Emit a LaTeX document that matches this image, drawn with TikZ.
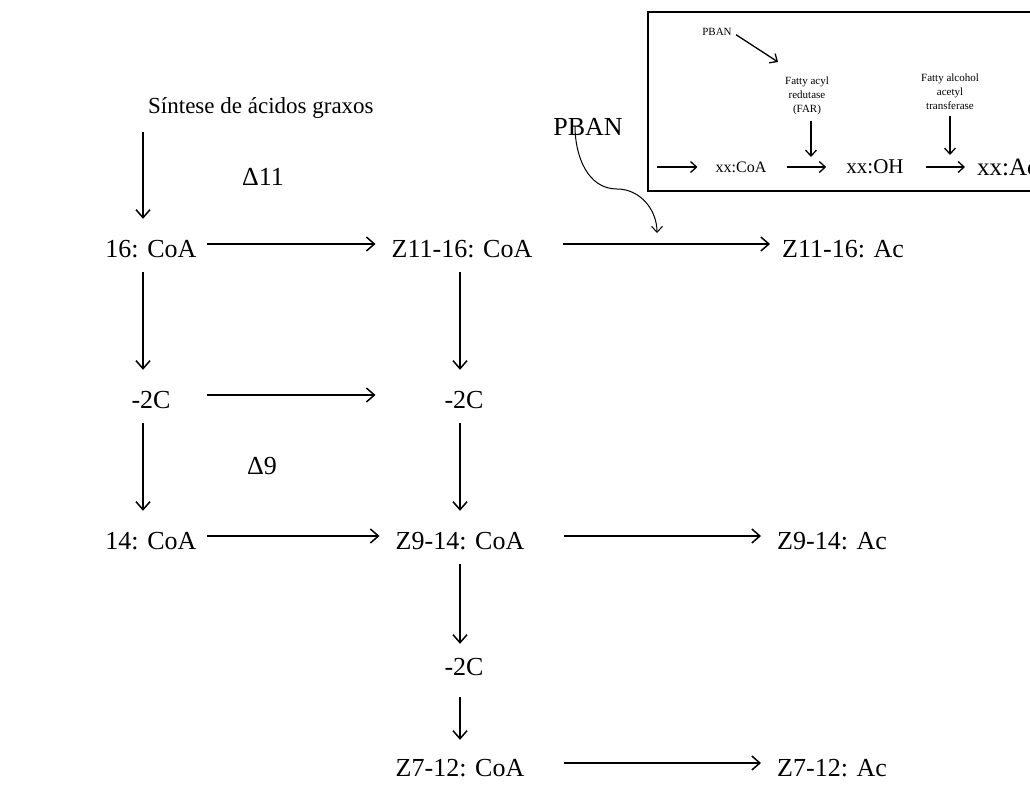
\documentclass[tikz,border=0pt]{standalone}
\usepackage{fontspec}
\setmainfont{Liberation Serif}
\usetikzlibrary{arrows.meta}
\tikzset{
  cmpd/.style={inner sep=0pt, font=\fontsize{26}{30}\selectfont, text height=26pt, text depth=0pt},
  small/.style={inner sep=0pt, font=\fontsize{11}{14}\selectfont, align=center},
  flow/.style={line width=1.5pt, -{Straight Barb[length=8pt,width=14pt,line width=1.5pt]}},
  iflow/.style={line width=1.3pt, -{Straight Barb[length=6pt,width=11pt,line width=1.3pt]}},
  down/.style={flow, shorten <=15pt, shorten >=12pt},
  across/.style={flow, shorten <=10pt, shorten >=16pt}
}
\begin{document}
\begin{tikzpicture}[x=1pt,y=-1pt]
        \useasboundingbox (0,0) rectangle (1030,785);
        %% Pathway
        \node[cmpd, font=\fontsize{23}{28}\selectfont, anchor=west] (syn) at (148,100) {Síntese de ácidos graxos};
        \node[cmpd] (c16) at (151,244) {16: CoA};
        \node[cmpd] (m2l) at (151,395) {-2C};
        \node[cmpd] (c14) at (151,536) {14: CoA};
        \node[cmpd] (z11c) at (462,244) {Z11-16: CoA};
        \node[cmpd] (m2r) at (464,395) {-2C};
        \node[cmpd] (z9c) at (460,536) {Z9-14: CoA};
        \node[cmpd] (m2b) at (464,662) {-2C};
        \node[cmpd] (z7c) at (460,763) {Z7-12: CoA};
        \node[cmpd, anchor=west] (z11a) at (782,244) {Z11-16: Ac};
        \node[cmpd, anchor=west] (z9a) at (777,536) {Z9-14: Ac};
        \node[cmpd, anchor=west] (z7a) at (777,763) {Z7-12: Ac};
        \node[cmpd] (d11) at (263,172) {Δ11};
        \node[cmpd] (d9) at (262,461) {Δ9};
        %% left column
        \coordinate (syns) at ([xshift=-8pt]c16.north);
        \draw[down, shorten <=19pt] (syn.south -| syns) -- (syns);
        \draw[down] ([xshift=-8pt]c16.south) -- ([xshift=-8pt]m2l.north);
        \draw[down] ([xshift=-8pt]m2l.south) -- ([xshift=-8pt]c14.north);
        %% middle column
        \draw[down] ([xshift=-2pt]z11c.south) -- ([xshift=-4pt]m2r.north);
        \draw[down] ([xshift=-4pt]m2r.south) -- ([xshift=0pt]z9c.north);
        \draw[down, shorten >=5pt] (z9c.south) -- ([xshift=-4pt]m2b.north);
        \draw[down, shorten <=22pt, shorten >=10pt] ([xshift=-4pt]m2b.south) -- (z7c.north);
        %% across
        \draw[across] (c16) -- (z11c);
        \draw[across] (c16.east |- m2l) -- (z11c.west |- m2r);
        \draw[across] (c14) -- (z9c);
        \draw[flow, shorten <=30pt, shorten >=12pt] (z11c) -- (z11a);
        \draw[flow, shorten <=40pt, shorten >=16pt] (z9c) -- (z9a);
        \draw[flow, shorten <=40pt, shorten >=16pt] (z7c) -- (z7a);
        %% PBAN
        \node[cmpd] (pban) at (588,122) {PBAN};
        \coordinate (pbanto) at (657,233);
        \draw[line width=1pt, -{Straight Barb[length=6pt,width=11pt,line width=1pt]}]
            ([xshift=-13pt,yshift=9pt]pban.south) to[out=-90,in=180] (617,189) to[out=0,in=90] (pbanto);
        %% Inset
        \draw[line width=2.5pt] (648,12) rectangle (1045,191);
        \node[small] (ipban) at (717,32) {PBAN};
        \node[small] (ifar) at (807,96) {Fatty acyl\\redutase\\(FAR)};
        \node[small] (ifaat) at (950,92) {Fatty alcohol\\acetyl\\transferase};
        \node[inner sep=0pt, font=\fontsize{16}{18}\selectfont] (icoa) at (741,167) {xx:CoA};
        \node[inner sep=0pt, font=\fontsize{21}{24}\selectfont] (ioh) at (875,167) {xx:OH};
        \node[inner sep=0pt, font=\fontsize{25}{28}\selectfont, anchor=west] (iac) at (977,167) {xx:Ac};
        \coordinate (iin) at (657,167);
        \coordinate (ifarup) at (778,62);
        \coordinate (ifarto) at (811,157);
        \coordinate (ifaatto) at (950,155);
        \draw[iflow, shorten >=18pt] (iin) -- (icoa);
        \draw[iflow, shorten <=20pt, shorten >=20pt] (icoa) -- (ioh);
        \draw[iflow, shorten <=22pt, shorten >=12pt] (ioh) -- (iac.west);
        \draw[iflow, shorten <=5pt] (ipban.east) -- (ifarup);
        \draw[iflow, shorten <=6pt] (ifar.south -| ifarto) -- (ifarto);
        \draw[iflow, shorten <=6pt] (ifaat.south -| ifaatto) -- (ifaatto);
\end{tikzpicture}
\end{document}
